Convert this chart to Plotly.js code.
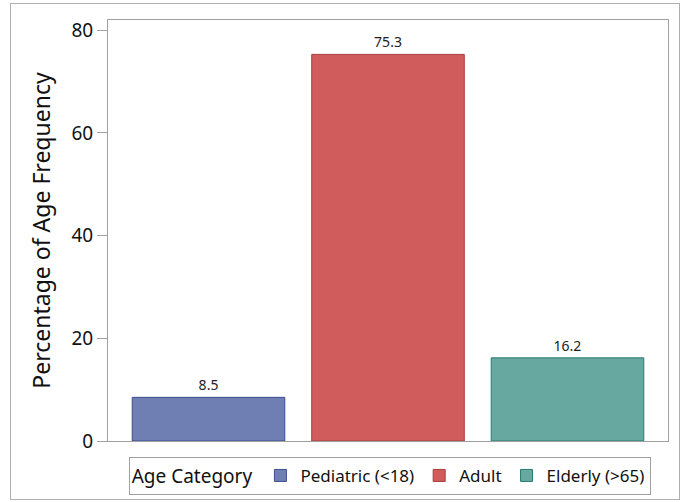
<!DOCTYPE html>
<html><head><meta charset="utf-8">
<script src="https://cdn.plot.ly/plotly-3.0.1.min.js"></script>
<style>body{margin:0;padding:0;background:#fff}#wrap{position:relative;width:688px;height:502px}#frame{position:absolute;left:10px;top:3px;width:670px;height:497px;border:1px solid #b0b0b0;pointer-events:none;box-sizing:border-box}</style>
</head><body><div id="wrap"><div id="chart" style="width:688px;height:502px"></div><div id="frame"></div></div>
<script>
var categories = ["Pediatric (<18)", "Adult", "Elderly (>65)"];
var values = [8.5, 75.3, 16.2];
var fills = ["#6f7fb4", "#d15c5c", "#67a8a0"];
var edges = ["#3d4d8e", "#a83c3c", "#2a7a70"];
var yTicks = [0, 20, 40, 60, 80];

var traces = categories.map(function(c, i){
  return {type:'bar', x:[i], y:[values[i]], name:c, width:0.85,
    marker:{color:fills[i], line:{color:edges[i], width:1}},
    text:[values[i].toFixed(1)], textposition:'outside', cliponaxis:false,
    textfont:{size:14, color:'#222', family:'Noto Sans'}, hoverinfo:'skip'};
});
var layout = {
  width:688, height:502, margin:{l:108, r:20, t:20, b:61},
  paper_bgcolor:'#fff', plot_bgcolor:'#fff',
  font:{family:'Noto Sans', color:'#111'},
  showlegend:true, barmode:'overlay',
  xaxis:{range:[-0.56,2.56], showticklabels:false, ticks:'', showgrid:false, zeroline:false,
    showline:true, mirror:true, linecolor:'#a0a0a0', linewidth:1, fixedrange:true},
  yaxis:{range:[0,82], tickvals:yTicks, ticks:'outside', ticklen:10, tickcolor:'#a0a0a0',
    showgrid:false, zeroline:false, showline:true, mirror:true, linecolor:'#a0a0a0', linewidth:1,
    tickfont:{size:19, color:'#111'},
    title:{text:'Percentage of Age Frequency', font:{size:23, color:'#111'}, standoff:14}},
  legend:{orientation:'h', x:0.503, xanchor:'center', yref:'container', y:0.052, yanchor:'middle',
    bordercolor:'#a0a0a0', borderwidth:1, bgcolor:'#fff',
    font:{size:17, color:'#111'}, itemwidth:30, tracegroupgap:0,
    title:{text:'Age Category', font:{size:19, color:'#111'}}}
};
Plotly.newPlot('chart', traces, layout, {staticPlot:true});
</script></body></html>
